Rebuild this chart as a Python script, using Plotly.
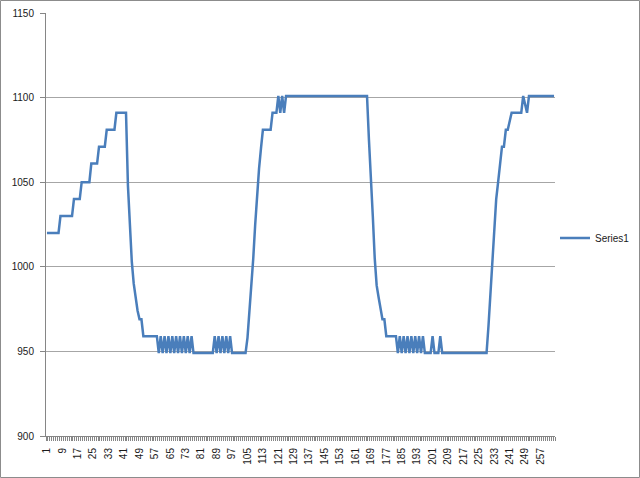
import plotly.graph_objects as go

# Category indices (x axis) and Series1 values
categories = list(range(1, 265))

series1 = [
    1020, 1020, 1020, 1020, 1020, 1020, 1020, 1030, 1030, 1030,
    1030, 1030, 1030, 1030, 1040, 1040, 1040, 1040, 1050, 1050,
    1050, 1050, 1050, 1061, 1061, 1061, 1061, 1071, 1071, 1071,
    1071, 1081, 1081, 1081, 1081, 1081, 1091, 1091, 1091, 1091,
    1091, 1091, 1048, 1022, 1003, 990, 981, 974, 969, 969,
    959, 959, 959, 959, 959, 959, 959, 959, 949, 959,
    949, 959, 949, 959, 949, 959, 949, 959, 949, 959,
    949, 959, 949, 959, 949, 959, 949, 949, 949, 949,
    949, 949, 949, 949, 949, 949, 949, 959, 949, 959,
    949, 959, 949, 959, 949, 959, 949, 949, 949, 949,
    949, 949, 949, 949, 958, 972, 988, 1005, 1025, 1045,
    1058, 1070, 1081, 1081, 1081, 1081, 1081, 1091, 1091, 1091,
    1101, 1091, 1101, 1091, 1101, 1101, 1101, 1101, 1101, 1101,
    1101, 1101, 1101, 1101, 1101, 1101, 1101, 1101, 1101, 1101,
    1101, 1101, 1101, 1101, 1101, 1101, 1101, 1101, 1101, 1101,
    1101, 1101, 1101, 1101, 1101, 1101, 1101, 1101, 1101, 1101,
    1101, 1101, 1101, 1101, 1101, 1101, 1101, 1075, 1055, 1030,
    1005, 989, 982, 975, 969, 969, 959, 959, 959, 959,
    959, 959, 949, 959, 949, 959, 949, 959, 949, 959,
    949, 959, 949, 959, 949, 959, 949, 949, 949, 949,
    959, 949, 949, 949, 959, 949, 949, 949, 949, 949,
    949, 949, 949, 949, 949, 949, 949, 949, 949, 949,
    949, 949, 949, 949, 949, 949, 949, 949, 949, 965,
    985, 1005, 1020, 1040, 1050, 1061, 1071, 1071, 1081, 1081,
    1086, 1091, 1091, 1091, 1091, 1091, 1091, 1101, 1096, 1091,
    1101, 1101, 1101, 1101, 1101, 1101, 1101, 1101, 1101, 1101,
    1101, 1101, 1101, 1101,
]

x_tick_vals = [1, 9, 17, 25, 33, 41, 49, 57, 65, 73, 81, 89, 97, 105, 113, 121,
               129, 137, 145, 153, 161, 169, 177, 185, 193, 201, 209, 217, 225,
               233, 241, 249, 257]
x_tick_text = [str(v) for v in x_tick_vals]
y_tick_vals = [900, 950, 1000, 1050, 1100, 1150]

W, H = 640, 478
ML, MR, MT, MB = 46, 85, 13, 42
PW, PH = W - ML - MR, H - MT - MB

fig = go.Figure()
fig.add_trace(go.Scatter(
    x=categories, y=series1, mode="lines", name="Series1",
    line=dict(color="#4A7EBB", width=2.5),
))

font_family = "Liberation Sans, Arial, sans-serif"

fig.update_layout(
    width=W, height=H,
    margin=dict(l=ML, r=MR, t=MT, b=MB, autoexpand=False),
    paper_bgcolor="white", plot_bgcolor="white",
    font=dict(family=font_family, size=10, color="#1a1a1a"),
    showlegend=True,
    legend=dict(x=(555 - ML) / PW, y=(436 - 238) / PH, xanchor="left", yanchor="middle",
                font=dict(size=10, color="#1a1a1a"), bgcolor="rgba(0,0,0,0)"),
    xaxis=dict(
        range=[0.5, 264.5], tickmode="array", tickvals=x_tick_vals, ticktext=x_tick_text,
        tickangle=-90, ticks="", showgrid=False, zeroline=False,
        showline=True, linecolor="#868686", linewidth=1,
        ticklabelstandoff=7, automargin=False,
        minor=dict(ticks="outside", tickmode="linear", tick0=0.5, dtick=1,
                   ticklen=4, tickcolor="#868686", tickwidth=1, showgrid=False),
        tickfont=dict(size=10, color="#1a1a1a"),
    ),
    yaxis=dict(
        range=[900, 1150], tickmode="array", tickvals=y_tick_vals,
        ticks="outside", ticklen=5, tickcolor="#868686",
        showgrid=True, gridcolor="#a6a6a6", gridwidth=1, zeroline=False,
        showline=True, linecolor="#868686", linewidth=1,
        ticklabelstandoff=4, automargin=False,
        tickfont=dict(size=10, color="#1a1a1a"),
    ),
    shapes=[dict(
        type="rect", xref="paper", yref="paper",
        x0=(0.5 - ML) / PW, x1=(W - 0.5 - ML) / PW,
        y0=-(H - 0.5 - (H - MB)) / PH, y1=1 + (MT - 0.5) / PH,
        line=dict(color="#8c8c8c", width=1), layer="below",
    )],
)

post = (
    "document.body.style.margin='0';"
    "document.body.style.padding='0';"
    "var gd=document.getElementById('{plot_id}');"
    "gd.style.position='absolute';gd.style.left='0px';gd.style.top='0px';"
)

fig.write_html("out.html", post_script=post, config={"displayModeBar": False})
